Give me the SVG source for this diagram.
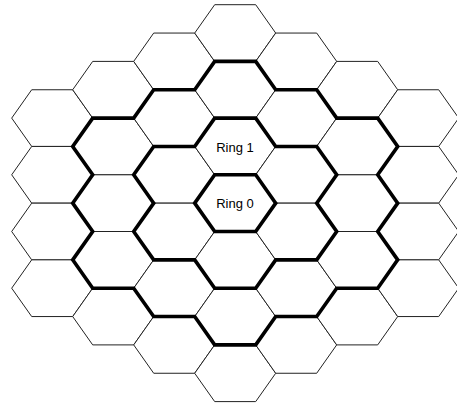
<svg xmlns="http://www.w3.org/2000/svg" xmlns:xlink="http://www.w3.org/1999/xlink" width="457" height="405" viewBox="0 0 457 405">
<style>
.cell{fill:#fff;stroke:#222;stroke-width:1}
.ring{fill:none;stroke:#000;stroke-width:3.6;stroke-linejoin:miter}
.lbl{font-family:"Liberation Sans",Arial,sans-serif;font-size:13px;fill:#000;text-anchor:middle}
</style>
<defs>
<polygon id="hex" points="-40.5,0 -20.5,-28.35 20.5,-28.35 40.5,0 20.5,28.35 -20.5,28.35"/>
</defs>
<rect width="457" height="405" fill="#fff"/>
<g id="cells">
<g id="cell-m3-0"><use xlink:href="#hex" class="cell" x="52.2" y="118.1"/></g>
<g id="cell-m3-1"><use xlink:href="#hex" class="cell" x="52.2" y="174.8"/></g>
<g id="cell-m3-2"><use xlink:href="#hex" class="cell" x="52.2" y="231.5"/></g>
<g id="cell-m3-3"><use xlink:href="#hex" class="cell" x="52.2" y="288.2"/></g>
<g id="cell-m2-m1"><use xlink:href="#hex" class="cell" x="113.2" y="89.75"/></g>
<g id="cell-m2-0"><use xlink:href="#hex" class="cell" x="113.2" y="146.45"/></g>
<g id="cell-m2-1"><use xlink:href="#hex" class="cell" x="113.2" y="203.15"/></g>
<g id="cell-m2-2"><use xlink:href="#hex" class="cell" x="113.2" y="259.85"/></g>
<g id="cell-m2-3"><use xlink:href="#hex" class="cell" x="113.2" y="316.55"/></g>
<g id="cell-m1-m2"><use xlink:href="#hex" class="cell" x="174.2" y="61.4"/></g>
<g id="cell-m1-m1"><use xlink:href="#hex" class="cell" x="174.2" y="118.1"/></g>
<g id="cell-m1-0"><use xlink:href="#hex" class="cell" x="174.2" y="174.8"/></g>
<g id="cell-m1-1"><use xlink:href="#hex" class="cell" x="174.2" y="231.5"/></g>
<g id="cell-m1-2"><use xlink:href="#hex" class="cell" x="174.2" y="288.2"/></g>
<g id="cell-m1-3"><use xlink:href="#hex" class="cell" x="174.2" y="344.9"/></g>
<g id="cell-0-m3"><use xlink:href="#hex" class="cell" x="235.2" y="33.05"/></g>
<g id="cell-0-m2"><use xlink:href="#hex" class="cell" x="235.2" y="89.75"/></g>
<g id="cell-0-m1"><use xlink:href="#hex" class="cell" x="235.2" y="146.45"/></g>
<g id="cell-0-0"><use xlink:href="#hex" class="cell" x="235.2" y="203.15"/></g>
<g id="cell-0-1"><use xlink:href="#hex" class="cell" x="235.2" y="259.85"/></g>
<g id="cell-0-2"><use xlink:href="#hex" class="cell" x="235.2" y="316.55"/></g>
<g id="cell-0-3"><use xlink:href="#hex" class="cell" x="235.2" y="373.25"/></g>
<g id="cell-1-m3"><use xlink:href="#hex" class="cell" x="296.2" y="61.4"/></g>
<g id="cell-1-m2"><use xlink:href="#hex" class="cell" x="296.2" y="118.1"/></g>
<g id="cell-1-m1"><use xlink:href="#hex" class="cell" x="296.2" y="174.8"/></g>
<g id="cell-1-0"><use xlink:href="#hex" class="cell" x="296.2" y="231.5"/></g>
<g id="cell-1-1"><use xlink:href="#hex" class="cell" x="296.2" y="288.2"/></g>
<g id="cell-1-2"><use xlink:href="#hex" class="cell" x="296.2" y="344.9"/></g>
<g id="cell-2-m3"><use xlink:href="#hex" class="cell" x="357.2" y="89.75"/></g>
<g id="cell-2-m2"><use xlink:href="#hex" class="cell" x="357.2" y="146.45"/></g>
<g id="cell-2-m1"><use xlink:href="#hex" class="cell" x="357.2" y="203.15"/></g>
<g id="cell-2-0"><use xlink:href="#hex" class="cell" x="357.2" y="259.85"/></g>
<g id="cell-2-1"><use xlink:href="#hex" class="cell" x="357.2" y="316.55"/></g>
<g id="cell-3-m3"><use xlink:href="#hex" class="cell" x="418.2" y="118.1"/></g>
<g id="cell-3-m2"><use xlink:href="#hex" class="cell" x="418.2" y="174.8"/></g>
<g id="cell-3-m1"><use xlink:href="#hex" class="cell" x="418.2" y="231.5"/></g>
<g id="cell-3-0"><use xlink:href="#hex" class="cell" x="418.2" y="288.2"/></g>
</g>
<g id="ring-boundaries">
<use xlink:href="#hex" class="ring" x="235.2" y="203.15"/>
<polygon class="ring" points="214.7,118.1 255.7,118.1 275.7,146.45 316.7,146.45 336.7,174.8 316.7,203.15 336.7,231.5 316.7,259.85 275.7,259.85 255.7,288.2 214.7,288.2 194.7,259.85 153.7,259.85 133.7,231.5 153.7,203.15 133.7,174.8 153.7,146.45 194.7,146.45"/>
<polygon class="ring" points="214.7,61.4 255.7,61.4 275.7,89.75 316.7,89.75 336.7,118.1 377.7,118.1 397.7,146.45 377.7,174.8 397.7,203.15 377.7,231.5 397.7,259.85 377.7,288.2 336.7,288.2 316.7,316.55 275.7,316.55 255.7,344.9 214.7,344.9 194.7,316.55 153.7,316.55 133.7,288.2 92.7,288.2 72.7,259.85 92.7,231.5 72.7,203.15 92.7,174.8 72.7,146.45 92.7,118.1 133.7,118.1 153.7,89.75 194.7,89.75"/>
</g>
<g id="labels">
<text class="lbl" x="235" y="151.5">Ring 1</text>
<text class="lbl" x="235" y="207.7">Ring 0</text>
</g>
</svg>
